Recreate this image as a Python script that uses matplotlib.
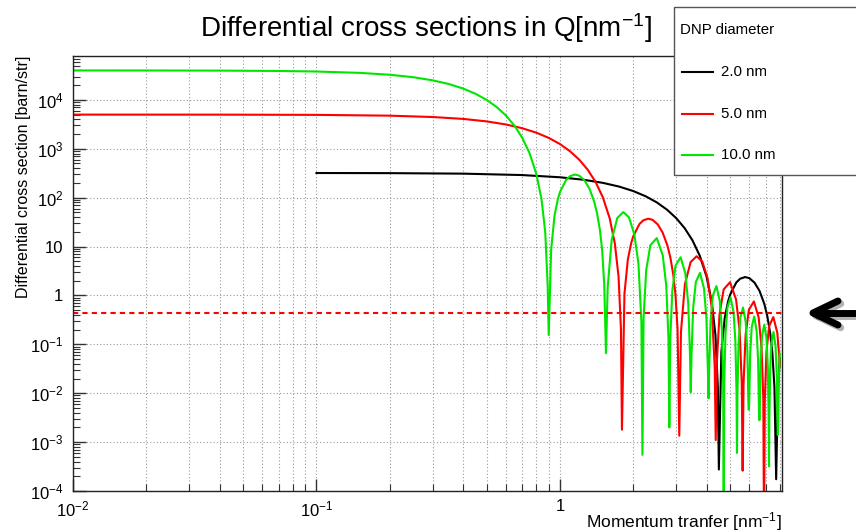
import matplotlib
matplotlib.use("Agg")
import matplotlib.pyplot as plt
import matplotlib.patheffects as pe
from matplotlib.patches import Rectangle
from matplotlib.lines import Line2D
from matplotlib.ticker import LogLocator, FixedLocator, FixedFormatter, NullFormatter

plt.rcParams['font.family'] = ['Liberation Sans', 'DejaVu Sans']
plt.rcParams['mathtext.fontset'] = 'custom'
plt.rcParams['mathtext.rm'] = 'Liberation Sans'
plt.rcParams['mathtext.it'] = 'Liberation Sans'

# values
q_green = [0.01, 0.02, 0.04, 0.07, 0.1, 0.15, 0.2, 0.25, 0.3, 0.35, 0.4, 0.45, 0.5, 0.55,
           0.6, 0.65, 0.7, 0.75, 0.8, 0.84, 0.87, 0.89, 0.899,
           0.92, 0.95, 0.98, 1.0, 1.06, 1.1, 1.1526, 1.2, 1.26, 1.32, 1.38, 1.42, 1.46, 1.49, 1.52, 1.545,
           1.57, 1.63, 1.72, 1.82, 1.92, 2.02, 2.10, 2.16, 2.181,
           2.2048, 2.2608, 2.3508, 2.497, 2.6432, 2.7332, 2.7892, 2.813,
           2.8372, 2.8932, 2.9832, 3.1288, 3.2742, 3.3642, 3.4202, 3.444,
           3.4682, 3.5242, 3.6142, 3.7592, 3.9042, 3.9942, 4.0502, 4.074,
           4.0982, 4.1542, 4.2442, 4.389, 4.534, 4.624, 4.680, 4.704,
           4.728, 4.784, 4.874, 5.0186, 5.1632, 5.2532, 5.3092, 5.333,
           5.3572, 5.4132, 5.5032, 5.6478, 5.7924, 5.8824, 5.9384, 5.962,
           5.9864, 6.0424, 6.1324, 6.2768, 6.4212, 6.5112, 6.5672, 6.591,
           6.6152, 6.6712, 6.7612, 6.9056, 7.0502, 7.1402, 7.1962, 7.220,
           7.2442, 7.3002, 7.3902, 7.5346, 7.6788, 7.7688, 7.8248, 7.849,
           7.8728, 7.9288, 8.0]
xs_green = [39980, 39920, 39680, 39030, 38040, 35710, 32660, 29050, 25120, 21050, 17060, 13330, 9980, 7114,
            4780, 2979, 1678, 813, 303.3, 92.5, 19.5, 1.65, 0.155,
            8.668, 43.49, 93.56, 130.2, 230.9, 275.6, 297.2, 281.5, 227.2, 154.7, 85.08, 47.96, 21.27, 8.508, 1.657, 0.066,
            1.443, 13.66, 38.42, 50.70, 39.60, 17.87, 4.530, 0.2839, 5.5e-4,
            0.3483, 3.334, 10.62, 14.89, 6.622, 1.556, 0.1358, 2.0e-3,
            0.1268, 1.239, 4.074, 6.039, 2.805, 0.6761, 0.05998, 0.0105,
            0.05662, 0.5610, 1.888, 2.891, 1.387, 0.3404, 0.03041, 7.9e-3,
            0.02904, 0.2904, 0.9931, 1.556, 0.7621, 0.1892, 0.01706, 1e-5,
            0.01637, 0.1652, 0.5702, 0.9099, 0.4529, 0.1135, 0.01030, 6e-4,
            0.00993, 0.1007, 0.3508, 0.5662, 0.2858, 0.07228, 0.006577, 4.6e-3,
            0.006368, 0.06486, 0.2275, 0.3715, 0.1892, 0.04808, 0.004395, 2.8e-3,
            0.004276, 0.04365, 0.1542, 0.2535, 0.1303, 0.03327, 0.003048, 3.2e-4,
            0.002972, 0.03041, 0.1079, 0.1786, 0.09247, 0.02371, 0.002183, 1.4e-3,
            0.002128, 0.02188, 0.0646]

q_red = [0.01, 0.04, 0.1, 0.2, 0.3, 0.4, 0.5, 0.6, 0.7, 0.8, 0.9, 1.0, 1.1, 1.2, 1.3,
         1.4, 1.5, 1.6, 1.68, 1.74, 1.78, 1.797,
         1.84, 1.9, 1.96, 2.0, 2.12, 2.2, 2.3052, 2.4, 2.52, 2.64, 2.76, 2.84, 2.92, 2.98, 3.04, 3.090,
         3.14, 3.26, 3.44, 3.64, 3.84, 4.04, 4.20, 4.32, 4.362,
         4.4096, 4.5216, 4.7016, 4.994, 5.2864, 5.4664, 5.5784, 5.626,
         5.6744, 5.7864, 5.9664, 6.2576, 6.5484, 6.7284, 6.8404, 6.888,
         6.9364, 7.0484, 7.2284, 7.5184, 7.8084, 7.9884, 8.0]
xs_red = [5000, 4990, 4938, 4755, 4464, 4083, 3631, 3140, 2631, 2133, 1666, 1248, 889.3, 597.5, 372.4,
          209.7, 101.6, 37.92, 11.57, 2.435, 0.206, 1.8e-3,
          1.084, 5.437, 11.70, 16.28, 28.87, 34.45, 37.15, 35.19, 28.41, 19.34, 10.64, 5.996, 2.659, 1.063, 0.2072, 1.35e-3,
          0.1804, 1.707, 4.803, 6.338, 4.950, 2.234, 0.5663, 0.03549, 1.1e-3,
          0.04355, 0.4169, 1.327, 1.862, 0.8279, 0.1945, 0.01698, 2.6e-4,
          0.01585, 0.1549, 0.5093, 0.7551, 0.3508, 0.08453, 0.007499, 1e-5,
          0.007079, 0.07015, 0.2360, 0.3614, 0.1734, 0.04256, 0.0371]

q_black = [0.1, 0.2, 0.4, 0.7, 1.0, 1.25, 1.5, 1.75, 2.0, 2.25, 2.5, 2.75, 3.0, 3.25,
           3.5, 3.75, 4.0, 4.2, 4.35, 4.45, 4.493,
           4.6, 4.75, 4.9, 5.0, 5.3, 5.5, 5.763, 6.0, 6.3, 6.6, 6.9, 7.1, 7.3, 7.45, 7.6, 7.725,
           7.85, 8.0]
xs_black = [319.4, 317.4, 309.9, 289.9, 261.3, 232.4, 200.9, 168.4, 136.5, 106.6, 79.84, 56.91, 38.24, 23.83,
            13.42, 6.502, 2.427, 0.7402, 0.1558, 0.01318, 2.75e-4,
            0.06934, 0.3479, 0.7485, 1.0417, 1.847, 2.2046, 2.378, 2.2523, 1.818, 1.2377, 0.6806, 0.3837,
            0.1701, 0.06806, 0.01326, 1.74e-4,
            0.01155, 0.051]

limit_level = 0.444

labels = ['2.0 nm', '5.0 nm', '10.0 nm']
colors = ['black', '#ff0000', '#00e600']

x_ticks = [0.01, 0.1, 1]
x_ticklabels = [r'$10^{-2}$', r'$10^{-1}$', '1']
y_ticks = [1e-4, 1e-3, 1e-2, 1e-1, 1, 10, 1e2, 1e3, 1e4]
y_ticklabels = [r'$10^{-4}$', r'$10^{-3}$', r'$10^{-2}$', r'$10^{-1}$', '1', '10',
                r'$10^{2}$', r'$10^{3}$', r'$10^{4}$']

W, H = 856, 532
fig = plt.figure(figsize=(W / 100, H / 100), dpi=100)
ax = fig.add_axes([73 / W, 1 - 491 / H, 708.7 / W, 435 / H])
ax.set_xscale('log')
ax.set_yscale('log')

ax.plot(q_black, xs_black, color=colors[0], lw=1.5)
ax.plot(q_red, xs_red, color=colors[1], lw=1.5)
ax.plot(q_green, xs_green, color=colors[2], lw=1.5)
ax.axhline(limit_level, color='#ff0000', lw=1.5, ls=(0, (2.5, 2)))

ax.set_xlim(0.01, 8.14)
ax.set_ylim(1e-4, 7.9e4)

ax.xaxis.set_major_locator(FixedLocator(x_ticks))
ax.xaxis.set_major_formatter(FixedFormatter(x_ticklabels))
ax.xaxis.set_minor_locator(LogLocator(base=10, subs=range(2, 10), numticks=20))
ax.xaxis.set_minor_formatter(NullFormatter())
ax.yaxis.set_major_locator(FixedLocator(y_ticks))
ax.yaxis.set_major_formatter(FixedFormatter(y_ticklabels))
ax.yaxis.set_minor_locator(LogLocator(base=10, subs=range(2, 10), numticks=20))
ax.yaxis.set_minor_formatter(NullFormatter())

ax.tick_params(which='both', direction='in', top=False, right=False, color='#333333')
ax.tick_params(which='major', length=9, width=1)
ax.tick_params(which='minor', length=5, width=0.8)
ax.tick_params(axis='y', labelsize=12, pad=7)
ax.tick_params(axis='x', labelsize=12, pad=6)

ax.set_axisbelow(True)
ax.grid(True, which='both', axis='x', color='#9a9a9a', ls=(0, (1, 2)), lw=0.8)
ax.grid(True, which='major', axis='y', color='#9a9a9a', ls=(0, (1, 2)), lw=0.8)
for s in ax.spines.values():
    s.set_color('#222222')
    s.set_linewidth(1)

ax.set_ylabel('Differential cross section [barn/str]', fontsize=11.5, loc='top')
ax.yaxis.set_label_coords(-0.059, 1.0)
ax.set_xlabel(r'Momentum tranfer [nm$^{-1}$]', fontsize=12.5, loc='right')
ax.xaxis.set_label_coords(1.0, -0.045)

fig.text(426 / W, 1 - 37 / H, r'Differential cross sections in Q[nm$^{-1}$]',
         fontsize=20, ha='center', va='baseline')

# legend box (ROOT style, runs off the right edge)
fig.add_artist(Rectangle((674 / W, 1 - 175 / H), 200 / W, 168 / H, transform=fig.transFigure,
                         facecolor='white', edgecolor='#555555', lw=1, clip_on=False))
fig.text(680 / W, 1 - 30 / H, 'DNP diameter', fontsize=10.8, ha='left', va='center')
for i, (lab, col) in enumerate(zip(labels, colors)):
    yy = 1 - (72 + 41.5 * i) / H
    fig.add_artist(Line2D([682 / W, 713 / W], [yy, yy], color=col, lw=1.5, transform=fig.transFigure))
    fig.text(721 / W, yy, lab, fontsize=10.8, ha='left', va='center')

# arrow pointing at the dashed level
shadow = [pe.SimpleLineShadow(offset=(2, -2), alpha=0.3), pe.Normal()]
ay = 1 - 313 / H
fig.add_artist(Line2D([875 / W, 815 / W], [ay, ay], color='black', lw=5,
                      solid_capstyle='round', transform=fig.transFigure, path_effects=shadow))
fig.add_artist(Line2D([838 / W, 813 / W, 838 / W], [ay + 12 / H, ay, ay - 12 / H], color='black', lw=5,
                      solid_capstyle='round', solid_joinstyle='round',
                      transform=fig.transFigure, path_effects=shadow))

fig.savefig('out.png', dpi=100)
